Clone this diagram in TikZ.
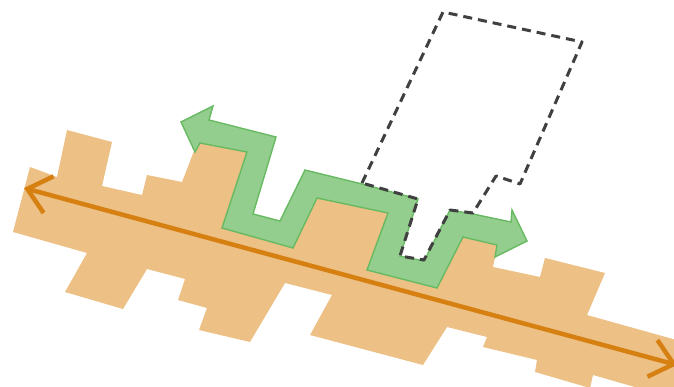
\documentclass[tikz,border=0pt]{standalone}
\usetikzlibrary{arrows.meta}
\definecolor{orFill}{RGB}{237,192,134}
\definecolor{orLine}{RGB}{214,128,18}
\definecolor{grFill}{RGB}{147,206,142}
\definecolor{grLine}{RGB}{104,186,98}
\definecolor{dashCol}{RGB}{64,64,64}
\tikzset{
  plotband/.style={fill=orFill},
  axisline/.style={draw=orLine, line width=4.5pt,
    {Straight Barb[length=22pt,width=38pt]}-{Straight Barb[length=22pt,width=38pt]}},
  routearrow/.style={fill=grFill, draw=grLine, line width=1.4pt, line join=miter},
  plotoutline/.style={draw=dashCol, line width=3pt, dash pattern=on 9pt off 6pt, line join=round}
}
\begin{document}
\begin{tikzpicture}[x=1pt,y=-1pt]
\useasboundingbox (0,0) rectangle (674,387);
% orange plots
\fill[plotband] (30,167) -- (57,177) -- (67,130) -- (112,142) -- (102,186) -- (142,195)
  -- (147,175) -- (182,182) -- (194,151) -- (203,133) -- (261,145) -- (238,221)
  -- (287,235) -- (311,184) -- (403,206) -- (384,263) -- (430,274) -- (457,224)
  -- (500,234) -- (493,267) -- (540,277) -- (545,258) -- (605,273) -- (587,315)
  -- (680,341) -- (680,400) -- (593,375) -- (590,388) -- (535,372) -- (537,360)
  -- (483,347) -- (487,337) -- (447,327) -- (423,365) -- (310,335) -- (332,295)
  -- (285,283) -- (250,342) -- (199,330) -- (207,308) -- (178,300) -- (185,279)
  -- (147,269) -- (123,309) -- (65,292) -- (87,253) -- (13,232) -- cycle;
% axis
\coordinate (axL) at (24,188);
\coordinate (axR) at (677,365);
\draw[axisline] (axL) -- (axR);
% green route
\filldraw[routearrow] (181,122) -- (213,106) -- (209,120) -- (276,137) -- (253,214)
  -- (280,221) -- (305,170) -- (362,184) -- (418,199) -- (400,256) -- (424,261)
  -- (450,210) -- (473,214) -- (511,222) -- (512,210) -- (527,241) -- (495,257)
  -- (497,245) -- (463,237) -- (437,288) -- (367,270) -- (388,213) -- (317,198)
  -- (293,248) -- (222,228) -- (247,152) -- (200,143) -- (195,152) -- cycle;
% dashed building outline
\draw[plotoutline] (362,183) -- (443,12) -- (582,42) -- (520,184) -- (496,176)
  -- (473,213) -- (450,210) -- (424,260) -- (400,256) -- (418,199) -- cycle;
\end{tikzpicture}
\end{document}
